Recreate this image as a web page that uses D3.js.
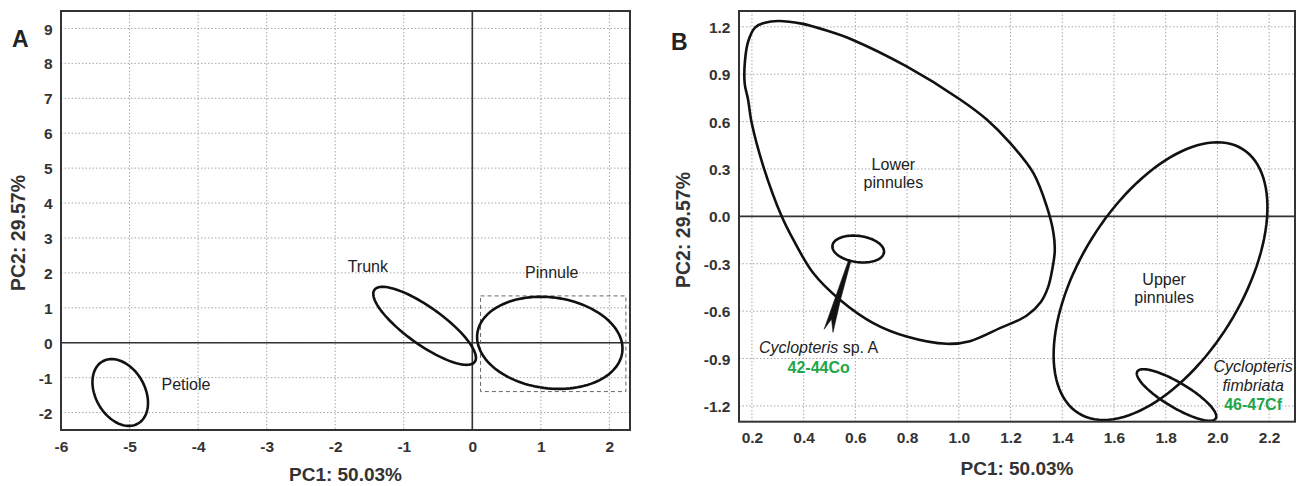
<!DOCTYPE html>
<html>
<head>
<meta charset="utf-8">
<script src="https://cdn.jsdelivr.net/npm/d3@7"></script>
<style>
  body { margin: 0; background: #fff; }
  svg { display: block; font-family: "Liberation Sans", Arial, sans-serif; }
</style>
</head>
<body>
<svg id="chart" width="1304" height="486"></svg>
<script>
// ---- panel A data ----
var aXTicks = [-6, -5, -4, -3, -2, -1, 0, 1, 2];
var aXLabels = ['-6', '-5', '-4', '-3', '-2', '-1', '0', '1', '2'];
var aYTicks = [-2, -1, 0, 1, 2, 3, 4, 5, 6, 7, 8, 9];
var aYLabels = ['-2', '-1', '0', '1', '2', '3', '4', '5', '6', '7', '8', '9'];
// ellipse: centre, conjugate half-axis u (to top point) and horizontal half-axis v
var aEllipses = [
    { name: 'Petiole', cx: -5.136, cy: -1.426, ux: -0.126, uy: 0.957, vx: 0.385 },
    { name: 'Trunk',   cx: -0.696, cy: 0.483,  ux: -0.613, uy: 1.117, vx: 0.43 },
    { name: 'Pinnule', cx: 1.130,  cy: -0.004, ux: -0.133, uy: 1.319, vx: 1.052 }
];
var aLabels = [
    { text: 'Petiole', x: -4.534, y: -1.18 },
    { text: 'Trunk',   x: -1.818, y: 2.19 },
    { text: 'Pinnule', x: 0.769,  y: 2.01 }
];
var aBox = { x0: 0.12, x1: 2.24, y0: -1.40, y1: 1.34 };

// ---- panel B data ----
var bXTicks = [0.2, 0.4, 0.6, 0.8, 1.0, 1.2, 1.4, 1.6, 1.8, 2.0, 2.2];
var bXLabels = ['0.2', '0.4', '0.6', '0.8', '1.0', '1.2', '1.4', '1.6', '1.8', '2.0', '2.2'];
var bYTicks = [-1.2, -0.9, -0.6, -0.3, 0, 0.3, 0.6, 0.9, 1.2];
var bYLabels = ['-1.2', '-0.9', '-0.6', '-0.3', '0.0', '0.3', '0.6', '0.9', '1.2'];
var lowerPinnules = [
    [0.302, 1.237], [0.392, 1.22], [0.495, 1.173], [0.586, 1.12], [0.798, 0.949],
    [1.005, 0.74], [1.108, 0.613], [1.198, 0.465], [1.288, 0.275], [1.34, 0.063],
    [1.366, -0.105], [1.371, -0.22], [1.362, -0.33], [1.345, -0.45], [1.318, -0.54],
    [1.263, -0.628], [1.159, -0.708], [1.043, -0.79], [0.953, -0.807], [0.798, -0.761],
    [0.669, -0.676], [0.54, -0.528], [0.437, -0.359], [0.36, -0.148], [0.315, 0.0],
    [0.244, 0.317], [0.199, 0.592], [0.185, 0.74], [0.172, 0.84], [0.173, 0.983],
    [0.186, 1.11], [0.212, 1.195], [0.25, 1.226]
];
var bEllipses = [
    { name: 'Upper pinnules', cx: 1.78,  cy: -0.41,  ux: 0.22,   uy: 0.879, vx: 0.35 },
    { name: '42-44Co',        cx: 0.611, cy: -0.207, ux: -0.019, uy: 0.085, vx: 0.098 },
    { name: '46-47Cf',        cx: 1.842, cy: -1.131, ux: -0.128, uy: 0.163, vx: 0.085 }
];
var bArrow = { x0: 0.579, y0: -0.275, x1: 0.497, y1: -0.723 };
var bLabels = [
    { lines: [['Lower', 'n']], x: 0.747, y: 0.328 },
    { lines: [['pinnules', 'n']], x: 0.747, y: 0.214 },
    { lines: [['Upper', 'n']], x: 1.794, y: -0.397 },
    { lines: [['pinnules', 'n']], x: 1.794, y: -0.511 },
    { lines: [['Cyclopteris', 'i'], [' sp. A', 'n']], x: 0.458, y: -0.828 },
    { lines: [['42-44Co', 'g']], x: 0.458, y: -0.956 },
    { lines: [['Cyclopteris', 'i']], x: 2.138, y: -0.947 },
    { lines: [['fimbriata', 'i']], x: 2.138, y: -1.072 },
    { lines: [['46-47Cf', 'g']], x: 2.138, y: -1.188 }
];

var svg = d3.select('#chart');
var green = '#1fa64a';

function ellipsePoints(e) {
    return d3.range(0, 360, 3).map(function(a) {
        var t = a * Math.PI / 180;
        return [e.cx + e.ux * Math.cos(t) + e.vx * Math.sin(t), e.cy + e.uy * Math.cos(t)];
    });
}

function drawFrame(g, x, y, xTicks, xLabels, yTicks, yLabels) {
    var x0 = x.range()[0], x1 = x.range()[1], y0 = y.range()[0], y1 = y.range()[1];

    g.append('g').selectAll('line.gx')
        .data(xTicks)
        .enter().append('line')
        .attr('x1', function(d) { return x(d); }).attr('x2', function(d) { return x(d); })
        .attr('y1', y1).attr('y2', y0)
        .attr('stroke', '#a8a8a8').attr('stroke-width', 1).attr('stroke-dasharray', '1.5,2');
    g.append('g').selectAll('line.gy')
        .data(yTicks)
        .enter().append('line')
        .attr('x1', x0).attr('x2', x1)
        .attr('y1', function(d) { return y(d); }).attr('y2', function(d) { return y(d); })
        .attr('stroke', '#a8a8a8').attr('stroke-width', 1).attr('stroke-dasharray', '1.5,2');

    var xAxis = d3.axisBottom(x).tickValues(xTicks).tickSize(0).tickPadding(0)
        .tickFormat(function(d, i) { return xLabels[i]; });
    var xa = g.append('g').attr('transform', 'translate(0,' + y0 + ')').call(xAxis);
    xa.select('.domain').remove();
    xa.selectAll('text').attr('dy', null).attr('y', 21.5)
        .attr('font-size', 15.5).attr('font-weight', 'bold').attr('fill', '#333')
        .attr('font-family', '"Liberation Sans", Arial, sans-serif');

    var yAxis = d3.axisLeft(y).tickValues(yTicks).tickSize(0).tickPadding(0)
        .tickFormat(function(d, i) { return yLabels[i]; });
    var ya = g.append('g').attr('transform', 'translate(' + x0 + ',0)').call(yAxis);
    ya.select('.domain').remove();
    ya.selectAll('text').attr('x', -8.5).attr('dy', '0.36em')
        .attr('font-size', 15.5).attr('font-weight', 'bold').attr('fill', '#333')
        .attr('font-family', '"Liberation Sans", Arial, sans-serif');
}

function drawBorder(g, x, y) {
    var x0 = x.range()[0], x1 = x.range()[1], y0 = y.range()[0], y1 = y.range()[1];
    g.append('rect')
        .attr('x', x0).attr('y', y1).attr('width', x1 - x0).attr('height', y0 - y1)
        .attr('fill', 'none').attr('stroke', '#333').attr('stroke-width', 2);
}

function drawTitles(g, letter, lx, ly, titleX, titleY, ytX, ytY) {
    g.append('text').attr('x', lx).attr('y', ly).text(letter)
        .attr('font-size', 23).attr('font-weight', 'bold').attr('fill', '#222');
    g.append('text').attr('x', titleX).attr('y', titleY).text('PC1: 50.03%')
        .attr('text-anchor', 'middle').attr('font-size', 19).attr('font-weight', 'bold').attr('fill', '#333');
    g.append('text').attr('transform', 'translate(' + ytX + ',' + ytY + ') rotate(-90)')
        .text('PC2: 29.57%')
        .attr('text-anchor', 'middle').attr('font-size', 19.5).attr('font-weight', 'bold').attr('fill', '#333');
}

// ================= Panel A =================
var xA = d3.scaleLinear().domain([-6, 2.3]).range([61, 630]);
var yA = d3.scaleLinear().domain([-2.5, 9.5]).range([430, 11]);
var gA = svg.append('g');

drawFrame(gA, xA, yA, aXTicks, aXLabels, aYTicks, aYLabels);

// zero lines
gA.append('line').attr('x1', xA(0)).attr('x2', xA(0)).attr('y1', yA(9.5)).attr('y2', yA(-2.5))
    .attr('stroke', '#333').attr('stroke-width', 1.6);
gA.append('line').attr('x1', xA(-6)).attr('x2', xA(2.3)).attr('y1', yA(0)).attr('y2', yA(0))
    .attr('stroke', '#333').attr('stroke-width', 1.6);

gA.append('rect')
    .attr('x', xA(aBox.x0)).attr('y', yA(aBox.y1))
    .attr('width', xA(aBox.x1) - xA(aBox.x0)).attr('height', yA(aBox.y0) - yA(aBox.y1))
    .attr('fill', 'none').attr('stroke', '#666').attr('stroke-width', 1).attr('stroke-dasharray', '4,3');

var lineA = d3.line().x(function(d) { return xA(d[0]); }).y(function(d) { return yA(d[1]); })
    .curve(d3.curveLinearClosed);
gA.selectAll('path.ell')
    .data(aEllipses)
    .enter().append('path')
    .attr('d', function(d) { return lineA(ellipsePoints(d)); })
    .attr('fill', 'none').attr('stroke', '#111').attr('stroke-width', 2.6);

gA.selectAll('text.lab')
    .data(aLabels)
    .enter().append('text')
    .attr('x', function(d) { return xA(d.x); })
    .attr('y', function(d) { return yA(d.y); })
    .attr('dy', '0.35em')
    .attr('font-size', 16).attr('fill', '#222')
    .text(function(d) { return d.text; });

drawBorder(gA, xA, yA);
drawTitles(gA, 'A', 12, 46.5, 345.5, 481, 25, 233);

// ================= Panel B =================
var xB = d3.scaleLinear().domain([0.15, 2.3]).range([739, 1295]);
var yB = d3.scaleLinear().domain([-1.3, 1.3]).range([421.7, 11]);
var gB = svg.append('g');

drawFrame(gB, xB, yB, bXTicks, bXLabels, bYTicks, bYLabels);

gB.append('line').attr('x1', xB(0.15)).attr('x2', xB(2.3)).attr('y1', yB(0)).attr('y2', yB(0))
    .attr('stroke', '#333').attr('stroke-width', 1.6);

var lineB = d3.line().x(function(d) { return xB(d[0]); }).y(function(d) { return yB(d[1]); });

gB.append('path')
    .attr('d', lineB.curve(d3.curveCatmullRomClosed.alpha(0.5))(lowerPinnules))
    .attr('fill', 'none').attr('stroke', '#111').attr('stroke-width', 2.6);

lineB.curve(d3.curveLinearClosed);
gB.selectAll('path.ell')
    .data(bEllipses)
    .enter().append('path')
    .attr('d', function(d) { return lineB(ellipsePoints(d)); })
    .attr('fill', 'none').attr('stroke', '#111').attr('stroke-width', 2.6);

// arrow from the small ellipse down to its label
(function() {
    var p0 = [xB(bArrow.x0), yB(bArrow.y0)], p1 = [xB(bArrow.x1), yB(bArrow.y1)];
    var dx = p1[0] - p0[0], dy = p1[1] - p0[1], L = Math.sqrt(dx * dx + dy * dy);
    var ax = [dx / L, dy / L], pp = [-dy / L, dx / L];
    function pt(along, side) {
        return [p0[0] + ax[0] * along + pp[0] * side, p0[1] + ax[1] * along + pp[1] * side];
    }
    var poly = [pt(0, 1.2), pt(L, 4.8), pt(0.84 * L, 0.6), pt(L + 0.5, -4.6), pt(0.55 * L, -2.4), pt(0, -1.2)];
    gB.append('polygon')
        .attr('points', poly.map(function(p) { return p.join(','); }).join(' '))
        .attr('fill', '#111').attr('stroke', '#111').attr('stroke-width', 0.6).attr('stroke-linejoin', 'round');
})();

var labs = gB.selectAll('text.lab')
    .data(bLabels)
    .enter().append('text')
    .attr('x', function(d) { return xB(d.x); })
    .attr('y', function(d) { return yB(d.y); })
    .attr('dy', '0.35em')
    .attr('text-anchor', 'middle')
    .attr('font-size', 16).attr('fill', '#222');
labs.selectAll('tspan')
    .data(function(d) { return d.lines; })
    .enter().append('tspan')
    .text(function(d) { return d[0]; })
    .attr('font-style', function(d) { return d[1] === 'i' ? 'italic' : null; })
    .attr('font-weight', function(d) { return d[1] === 'g' ? 'bold' : null; })
    .attr('fill', function(d) { return d[1] === 'g' ? green : null; })
    .attr('xml:space', 'preserve');

drawBorder(gB, xB, yB);
drawTitles(gB, 'B', 671, 50, 1017, 475, 690, 230);
</script>
</body>
</html>
